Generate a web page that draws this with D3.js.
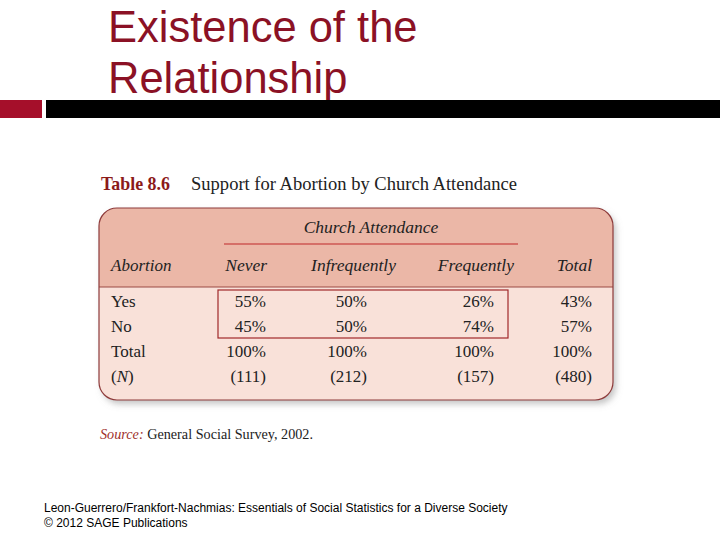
<!DOCTYPE html>
<html><head><meta charset="utf-8">
<script src="https://cdn.jsdelivr.net/npm/d3@7"></script>
<style>body{margin:0;background:#fff}svg{display:block}</style>
</head><body>
<script>
const titleLines = ["Existence of the", "Relationship"];
const tableLabel = "Table 8.6";
const tableTitle = "Support for Abortion by Church Attendance";
const spanner = "Church Attendance";
const rowHeader = "Abortion";
const categories = ["Never", "Infrequently", "Frequently", "Total"];
const yesValues = [55, 50, 26, 43];
const noValues = [45, 50, 74, 57];
const totalValues = [100, 100, 100, 100];
const nValues = [111, 212, 157, 480];
const rowLabels = ["Yes", "No", "Total", "(N)"];
const sourceText = "General Social Survey, 2002.";
const footerLines = ["Leon-Guerrero/Frankfort-Nachmias: Essentials of Social Statistics for a Diverse Society", "\u00a9 2012 SAGE Publications"];

const W = 720, H = 540;
const svg = d3.select("body").append("svg").attr("width", W).attr("height", H);
const serif = "'Liberation Serif','DejaVu Serif',serif";
const sans = "'Liberation Sans',Arial,sans-serif";
const dark = "#8B1125";

// title
svg.selectAll("text.title").data(titleLines).join("text")
  .attr("x", 108).attr("y", (d, i) => 42 + i * 51)
  .attr("font-family", sans).attr("font-size", 43.5).attr("fill", dark)
  .text(d => d);
svg.append("rect").attr("x", 0).attr("y", 100).attr("width", 42).attr("height", 18).attr("fill", "#A50F2A");
svg.append("rect").attr("x", 46).attr("y", 100).attr("width", 674).attr("height", 18).attr("fill", "#000");

// caption
svg.append("text").attr("x", 101).attr("y", 190).attr("font-family", serif).attr("font-size", 19)
  .attr("font-weight", "bold").attr("fill", "#8B1A1A").attr("textLength", 69).attr("lengthAdjust", "spacingAndGlyphs").text(tableLabel);
svg.append("text").attr("x", 191).attr("y", 190).attr("font-family", serif).attr("font-size", 19)
  .attr("fill", "#222").attr("textLength", 326).attr("lengthAdjust", "spacingAndGlyphs").text(tableTitle);

// table box
const bx = 99, by = 208, bw = 514, bh = 192, r = 18, headBottom = 287;
const defs = svg.append("defs");
const f = defs.append("filter").attr("id", "sh").attr("x", "-5%").attr("y", "-5%").attr("width", "115%").attr("height", "120%");
f.append("feDropShadow").attr("dx", 3).attr("dy", 4).attr("stdDeviation", 3).attr("flood-color", "#888").attr("flood-opacity", 0.5);
defs.append("clipPath").attr("id", "bc").append("rect").attr("x", bx).attr("y", by).attr("width", bw).attr("height", bh).attr("rx", r);
svg.append("rect").attr("x", bx).attr("y", by).attr("width", bw).attr("height", bh).attr("rx", r)
  .attr("fill", "#F9E1D9").attr("filter", "url(#sh)");
svg.append("rect").attr("clip-path", "url(#bc)").attr("x", bx).attr("y", by).attr("width", bw).attr("height", headBottom - by)
  .attr("fill", "#EBB7A7");
svg.append("line").attr("x1", bx).attr("x2", bx + bw).attr("y1", headBottom).attr("y2", headBottom).attr("stroke", "#9B4A44").attr("stroke-width", 1.2);
svg.append("rect").attr("x", bx).attr("y", by).attr("width", bw).attr("height", bh).attr("rx", r)
  .attr("fill", "none").attr("stroke", "#8E3B3B").attr("stroke-width", 1.2);

// column scale (right edges of columns)
const colX = d3.scaleOrdinal().domain(categories).range([266, 367, 494, 592]);
const headX = d3.scaleOrdinal().domain(categories).range([267, 396, 514, 592]);
const rowY = d3.scalePoint().domain(rowLabels).range([307, 382]);

svg.append("text").attr("x", 371).attr("y", 233).attr("text-anchor", "middle").attr("font-family", serif)
  .attr("font-style", "italic").attr("font-size", 17.5).attr("fill", "#222").text(spanner);
svg.append("line").attr("x1", 224).attr("x2", 518).attr("y1", 244).attr("y2", 244).attr("stroke", "#C0282A").attr("stroke-width", 1.2);
svg.append("text").attr("x", 111).attr("y", 271).attr("font-family", serif).attr("font-style", "italic")
  .attr("font-size", 17).attr("fill", "#222").text(rowHeader);
svg.selectAll("text.head").data(categories).join("text").attr("class", "head")
  .attr("x", d => headX(d)).attr("y", 271).attr("text-anchor", "end").attr("font-family", serif)
  .attr("font-style", "italic").attr("font-size", 17.5).attr("fill", "#222").text(d => d);

// row labels
svg.selectAll("text.rl").data(rowLabels).join("text").attr("class", "rl")
  .attr("x", 111).attr("y", d => rowY(d)).attr("font-family", serif).attr("font-size", 17).attr("fill", "#222")
  .each(function(d) {
    const t = d3.select(this);
    if (d === "(N)") { t.append("tspan").text("("); t.append("tspan").attr("font-style", "italic").text("N"); t.append("tspan").text(")"); }
    else t.text(d);
  });

const rows = [
  {key: "Yes", vals: yesValues, fmt: v => v + "%"},
  {key: "No", vals: noValues, fmt: v => v + "%"},
  {key: "Total", vals: totalValues, fmt: v => v + "%"},
  {key: "(N)", vals: nValues, fmt: v => "(" + v + ")"}
];
rows.forEach(row => {
  svg.selectAll(null).data(row.vals).join("text")
    .attr("x", (d, i) => colX(categories[i])).attr("y", rowY(row.key)).attr("text-anchor", "end")
    .attr("font-family", serif).attr("font-size", 17).attr("fill", "#222").text(d => row.fmt(d));
});

// highlight box
svg.append("rect").attr("x", 218).attr("y", 290).attr("width", 290).attr("height", 48)
  .attr("fill", "none").attr("stroke", "#A0282A").attr("stroke-width", 1.2);

// source
const src = svg.append("text").attr("x", 100).attr("y", 439).attr("font-family", serif).attr("font-size", 15.5)
  .attr("fill", "#222").attr("textLength", 213).attr("lengthAdjust", "spacingAndGlyphs");
src.append("tspan").attr("font-style", "italic").attr("fill", "#A0302A").text("Source:");
src.append("tspan").text(" " + sourceText);

// footer
svg.selectAll("text.foot").data(footerLines).join("text").attr("class", "foot")
  .attr("x", 44).attr("y", (d, i) => 512 + i * 15).attr("font-family", sans).attr("font-size", 12).attr("fill", "#000").text(d => d);
</script>
</body></html>
